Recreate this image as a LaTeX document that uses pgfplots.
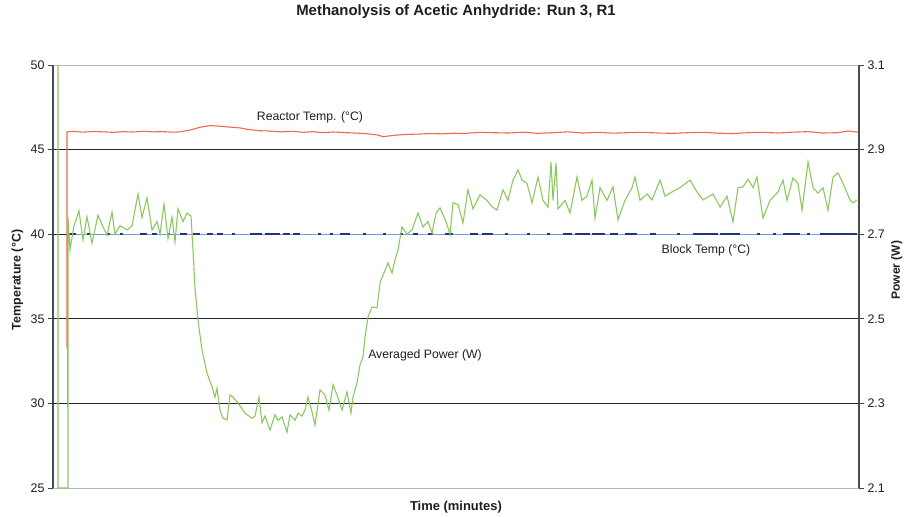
\documentclass[border=0pt]{standalone}
\usepackage{fontspec}
\setmainfont{Liberation Sans}
\usepackage{pgfplots}
\pgfplotsset{compat=1.18}

\definecolor{reactor}{RGB}{240,105,75}
\definecolor{power}{RGB}{140,200,95}
\definecolor{blockl}{RGB}{110,160,220}
\definecolor{blockd}{RGB}{35,55,120}
\definecolor{txt}{RGB}{30,30,30}

\pgfplotsset{
  every axis/.append style={
    scale only axis, width=806bp, height=423bp,
    xmin=0, xmax=806, xtick=\empty,
    tick align=outside, major tick length=5bp,
    tick style={black!75, line width=0.8bp},
    /pgf/number format/assume math mode=true,
    every tick label/.append style={font=\fontsize{12.5}{14}\selectfont, text=txt},
  },
}

\begin{document}
\begin{tikzpicture}
\begin{axis}[
  name=tax,
  ymin=25, ymax=50,
  ytick={25,30,...,50},
  extra y ticks={30,35,40,45},
  extra y tick labels={},
  extra y tick style={grid=major, major grid style={black!85, line width=1.3bp}},
  separate axis lines,
  x axis line style={gray!55, line width=0.8bp},
  y axis line style={black!70, line width=1.2bp},
  unbounded coords=jump,
  title={Methanolysis of Acetic Anhydride: Run 3, R1},
  title style={font=\bfseries\fontsize{15}{17}\selectfont, text=txt,
    at={(axis description cs:0.5,1.111)}, anchor=center, yshift=0pt},
  xlabel={Time (minutes)},
  xlabel style={font=\bfseries\fontsize{13}{15}\selectfont, text=txt,
    at={(axis description cs:0.5,-0.045)}, anchor=center},
  ylabel={Temperature (°C)},
  ylabel style={font=\bfseries\fontsize{12.5}{14}\selectfont, text=txt,
    at={(axis description cs:-0.044,0.492)}, anchor=center},
]
% block temperature
\addplot[color=blockl, line width=1bp] coordinates {
(14,29.8) (14,40) (806,40)
};
\addplot[color=blockd, line width=1.5bp] coordinates {
(15,40) (23,40) (23,nan) (34,40) (37,40) (37,nan) (54,40) (57,40) (57,nan)
(67,40) (70,40) (70,nan) (87,40) (94,40) (94,nan) (99,40) (104,40) (104,nan)
(114,40) (117,40) (117,nan) (127,40) (134,40) (134,nan) (140,40) (147,40) (147,nan)
(154,40) (160,40) (160,nan) (164,40) (170,40) (170,nan) (179,40) (182,40) (182,nan)
(197,40) (209,40) (209,nan) (212,40) (227,40) (227,nan) (230,40) (237,40) (237,nan)
(240,40) (247,40) (247,nan) (265,40) (268,40) (268,nan) (277,40) (280,40) (280,nan)
(287,40) (297,40) (297,nan) (310,40) (313,40) (313,nan) (330,40) (333,40) (333,nan)
(347,40) (350,40) (350,nan) (360,40) (365,40) (365,nan) (375,40) (380,40) (380,nan)
(392,40) (400,40) (400,nan) (417,40) (425,40) (425,nan) (429,40) (440,40) (440,nan)
(452,40) (455,40) (455,nan) (474,40) (477,40) (477,nan) (494,40) (497,40) (497,nan)
(510,40) (519,40) (519,nan) (522,40) (537,40) (537,nan) (539,40) (552,40) (552,nan)
(557,40) (565,40) (565,nan) (572,40) (584,40) (584,nan) (597,40) (603,40) (603,nan)
(624,40) (627,40) (627,nan) (640,40) (665,40) (665,nan) (667,40) (687,40) (687,nan)
(704,40) (707,40) (707,nan) (720,40) (723,40) (723,nan) (730,40) (747,40) (747,nan)
(754,40) (757,40) (757,nan) (767,40) (804,40)
};
% reactor temperature
\addplot[color=reactor, line width=1.1bp] coordinates {
(14,33.3) (14,46.05) (20,46.08) (30,46.03) (40,46.07) (50,46.05) (60,46.02)
(70,46.06) (80,46.04) (90,46.08) (100,46.05) (110,46.06) (120,46.03) (127,46.05)
(137,46.15) (147,46.32) (157,46.42) (167,46.38) (177,46.33) (187,46.28) (194,46.2)
(205,46.12) (215,46.1) (227,46.05) (240,46.08) (250,46.02) (260,46.06) (270,46.0)
(280,46.04) (294,46.0) (305,45.97) (315,45.93) (325,45.86) (330,45.76) (335,45.8)
(344,45.86) (355,45.9) (367,45.92) (377,45.95) (390,45.93) (400,45.97) (410,45.95)
(427,46.02) (440,46.0) (455,45.98) (470,46.03) (485,45.96) (500,46.0) (515,46.05)
(530,45.98) (545,46.02) (560,45.97) (575,46.0) (590,46.02) (605,45.98) (620,45.96)
(635,46.0) (650,46.02) (665,45.97) (680,45.95) (695,46.0) (710,46.02) (725,45.98)
(740,46.03) (755,46.06) (770,45.98) (785,46.0) (795,46.1) (805,46.03)
};
\node[font=\fontsize{12.3}{14}\selectfont, text=txt] at (axis cs:257,46.93) {Reactor Temp. (°C)};
\node[font=\fontsize{12.3}{14}\selectfont, text=txt] at (axis cs:653,39.07) {Block Temp (°C)};
\node[font=\fontsize{12.3}{14}\selectfont, text=txt] at (axis cs:372,32.86) {Averaged Power (W)};
\end{axis}

\begin{axis}[
  axis y line*=right, axis x line=none,
  ymin=2.1, ymax=3.1,
  ytick={2.1,2.3,2.5,2.7,2.9,3.1},
  yticklabel style={/pgf/number format/fixed, /pgf/number format/fixed zerofill,
    /pgf/number format/precision=1},
  y axis line style={black!70, line width=1.2bp},
  ylabel={Power (W)},
  ylabel style={font=\bfseries\fontsize{12}{14}\selectfont, text=txt,
    at={(axis description cs:1.047,0.515)}, anchor=center, rotate=0},
]
\addplot[color=power, line width=1.1bp] coordinates {
(5,3.1) (5,2.1) (15,2.1) (15,2.74) (17,2.663) (21,2.72) (26,2.755) (30,2.686)
(34,2.741) (39,2.679) (45,2.745) (50,2.717) (54,2.698) (59,2.752) (62,2.70)
(67,2.72) (74,2.71) (79,2.72) (85,2.795) (89,2.74) (94,2.786) (99,2.71) (104,2.73)
(107,2.70) (111,2.771) (115,2.69) (119,2.74) (122,2.682) (125,2.76) (130,2.73)
(134,2.75) (138,2.743) (140,2.663) (142,2.573) (145,2.497) (149,2.426) (154,2.372)
(159,2.339) (162,2.315) (164,2.336) (167,2.284) (170,2.265) (174,2.261) (177,2.320)
(180,2.315) (185,2.301) (192,2.277) (199,2.265) (202,2.27) (206,2.315) (209,2.254)
(212,2.27) (217,2.237) (222,2.273) (225,2.26) (229,2.268) (234,2.232) (237,2.273)
(242,2.26) (245,2.277) (249,2.27) (252,2.284) (255,2.315) (259,2.28) (262,2.249)
(267,2.332) (272,2.32) (276,2.284) (280,2.344) (284,2.32) (289,2.284) (294,2.327)
(298,2.277) (300,2.315) (304,2.348) (307,2.391) (310,2.410) (312,2.457) (315,2.504)
(319,2.528) (324,2.526) (327,2.585) (332,2.615) (335,2.632) (339,2.608) (342,2.639)
(345,2.663) (349,2.717) (354,2.70) (359,2.71) (365,2.750) (370,2.717) (375,2.73)
(379,2.703) (383,2.75) (387,2.762) (393,2.73) (397,2.70) (400,2.774) (405,2.77)
(410,2.727) (415,2.805) (420,2.76) (427,2.793) (434,2.78) (439,2.765) (444,2.757)
(450,2.805) (455,2.78) (460,2.828) (465,2.852) (469,2.828) (474,2.82) (479,2.774)
(485,2.835) (490,2.78) (495,2.764) (498,2.871) (500,2.78) (503,2.868) (505,2.76)
(512,2.78) (517,2.750) (524,2.835) (529,2.78) (534,2.79) (539,2.828) (542,2.738)
(547,2.81) (554,2.78) (560,2.812) (565,2.734) (572,2.78) (579,2.81) (582,2.835)
(587,2.78) (594,2.795) (599,2.781) (607,2.828) (612,2.79) (619,2.80) (627,2.81)
(637,2.828) (644,2.80) (650,2.781) (660,2.795) (667,2.764) (674,2.79) (680,2.729)
(685,2.81) (690,2.812) (695,2.83) (700,2.81) (704,2.835) (710,2.738) (717,2.78)
(725,2.80) (730,2.828) (734,2.78) (740,2.833) (745,2.82) (749,2.757) (755,2.871)
(760,2.81) (765,2.797) (770,2.81) (775,2.757) (780,2.835) (785,2.845) (790,2.82)
(797,2.781) (800,2.774) (804,2.781)
};
\end{axis}

\pgfresetboundingbox
\path ([shift={(-53bp,-29bp)}]tax.south west) rectangle ([shift={(47bp,65bp)}]tax.north east);
\end{tikzpicture}
\end{document}
